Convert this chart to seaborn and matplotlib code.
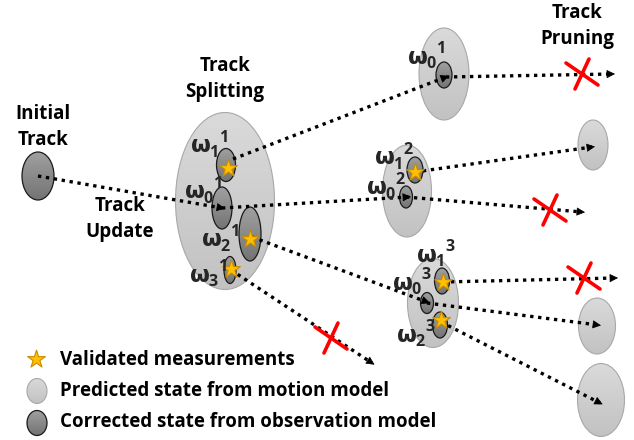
import numpy as np
import matplotlib
matplotlib.use("Agg")
import matplotlib.pyplot as plt
import seaborn as sns
from matplotlib.patches import Ellipse

sns.set_theme(style="white")
plt.rcParams["font.family"] = ["Open Sans", "DejaVu Sans"]

# predicted states (light ellipses), pixel coords
pred_x = [225, 444, 407, 433, 593, 597, 601]
pred_y = [201, 74, 191, 303, 145, 326, 400]
pred_w = [99, 50, 49, 51, 30, 37, 47]
pred_h = [177, 92, 92, 89, 50, 56, 73]

# corrected states (dark ellipses)
corr_x = [38, 226, 222, 250, 230, 444, 415, 406, 442, 427, 440]
corr_y = [176, 165, 208, 234, 270, 75, 170, 197, 281, 303, 325]
corr_w = [32, 19, 20, 22, 12, 16, 16, 13, 15, 13, 15]
corr_h = [48, 33, 42, 54, 27, 26, 26, 22, 26, 21, 26]

# validated measurements
star_x = [228, 250, 231, 415, 443, 441, 36]
star_y = [168, 239, 269, 172, 282, 320, 359]

# track hypotheses (dotted arrows)
arr_x0 = [38, 233, 222, 252, 231, 446, 415, 406, 443, 427, 441]
arr_y0 = [176, 159, 208, 237, 270, 77, 172, 197, 282, 303, 322]
arr_x1 = [222, 446, 408, 427, 372, 612, 592, 582, 615, 598, 600]
arr_y1 = [208, 77, 197, 302, 363, 74, 147, 212, 278, 325, 403]

# pruned tracks
prune_x = [582, 550, 584, 331]
prune_y = [74, 210, 278, 338]

# omega labels: (x, y, sub, sup)
om_x = [201, 195, 212, 200, 418, 385, 377, 427, 403, 407]
om_y = [146, 192, 240, 275, 57, 158, 188, 255, 283, 335]
om_sub = ["1", "0", "2", "3", "0", "1", "0", "1", "0", "2"]
om_sup = ["1", "1", "1", "1", "1", "2", "2", "3", "3", "3"]

titles = ["Initial\nTrack", "Track\nSplitting", "Track\nUpdate", "Track\nPruning"]
title_x = [43, 225, 120, 577]
title_y = [127, 79, 219, 26]

legend_labels = ["Validated measurements", "Predicted state from motion model",
                 "Corrected state from observation model"]

fig = plt.figure(figsize=(6.34, 4.40), dpi=100)
ax = fig.add_axes([0, 0, 1, 1])
ax.set_xlim(0, 634)
ax.set_ylim(440, 0)
ax.axis("off")


def grad_ellipse(x, y, w, h, top, bot, edge, lw, z):
    e = Ellipse((x, y), w, h, facecolor="none", edgecolor=edge, lw=lw, zorder=z + 0.1)
    ax.add_patch(e)
    clip = Ellipse((x, y), w, h, facecolor="none", edgecolor="none")
    ax.add_patch(clip)
    g = np.linspace(0, 1, 64).reshape(-1, 1)
    c0 = np.array(matplotlib.colors.to_rgb(top))
    c1 = np.array(matplotlib.colors.to_rgb(bot))
    img = c0 + (c1 - c0) * g[..., None]
    im = ax.imshow(img, extent=(x - w / 2, x + w / 2, y + h / 2, y - h / 2),
                   aspect="auto", zorder=z, interpolation="bilinear")
    im.set_clip_path(clip)


for x, y, w, h in zip(pred_x, pred_y, pred_w, pred_h):
    grad_ellipse(x, y, w, h, "#dadada", "#c2c2c2", "#a8a8a8", 0.8, 1)
for x, y, w, h in zip(corr_x, corr_y, corr_w, corr_h):
    grad_ellipse(x, y, w, h, "#a0a0a0", "#747474", "#1a1a1a", 0.9, 2)

# dotted arrows
for x0, y0, x1, y1 in zip(arr_x0, arr_y0, arr_x1, arr_y1):
    ax.plot([x0, x1], [y0, y1], color="black", lw=2.4, ls=(0, (1, 1.4)),
            zorder=4, solid_capstyle="butt", dash_capstyle="butt")
    d = np.array([x1 - x0, y1 - y0], float)
    d /= np.hypot(*d)
    ax.annotate("", xy=(x1 + 3 * d[0], y1 + 3 * d[1]), xytext=(x1 - 2 * d[0], y1 - 2 * d[1]),
                arrowprops=dict(arrowstyle="-|>", color="black", lw=0.5,
                                mutation_scale=13), zorder=5)

# red crosses
for x, y in zip(prune_x, prune_y):
    ax.plot([x - 16, x + 16], [y - 11, y + 11], color="#ff0000", lw=2.6, zorder=6)
    ax.plot([x + 7, x - 7], [y - 15, y + 15], color="#ff0000", lw=2.6, zorder=6)

# stars
sns.scatterplot(x=star_x, y=star_y, marker="*", s=180, color="#ffc000",
                edgecolor="#c98a00", linewidth=0.8, zorder=7, ax=ax, legend=False)

# legend ellipses
grad_ellipse(37, 391, 20, 25, "#dadada", "#c2c2c2", "#a8a8a8", 0.8, 1)
grad_ellipse(37, 423, 20, 25, "#a0a0a0", "#747474", "#1a1a1a", 0.9, 2)
for lab, ly in zip(legend_labels, [360, 391, 422]):
    ax.text(60, ly, lab, fontsize=13.5, fontweight="bold", va="center", ha="left",
            color="black")

for t, x, y in zip(titles, title_x, title_y):
    ax.text(x, y, t, fontsize=13.5, fontweight="bold", ha="center", va="center",
            linespacing=1.35, color="black")

# omega labels
for x, y, sb, sp in zip(om_x, om_y, om_sub, om_sup):
    ax.text(x, y, "ω", fontsize=16.5, fontweight="bold", ha="center", va="center",
            zorder=8, family=["DejaVu Sans"])
    ax.text(x + 13, y + 7, sb, fontsize=11.5, fontweight="bold", ha="center",
            va="center", zorder=8)
    ax.text(x + 23, y - 8, sp, fontsize=11.5, fontweight="bold", ha="center",
            va="center", zorder=8)

fig.savefig("out.png", dpi=100)
